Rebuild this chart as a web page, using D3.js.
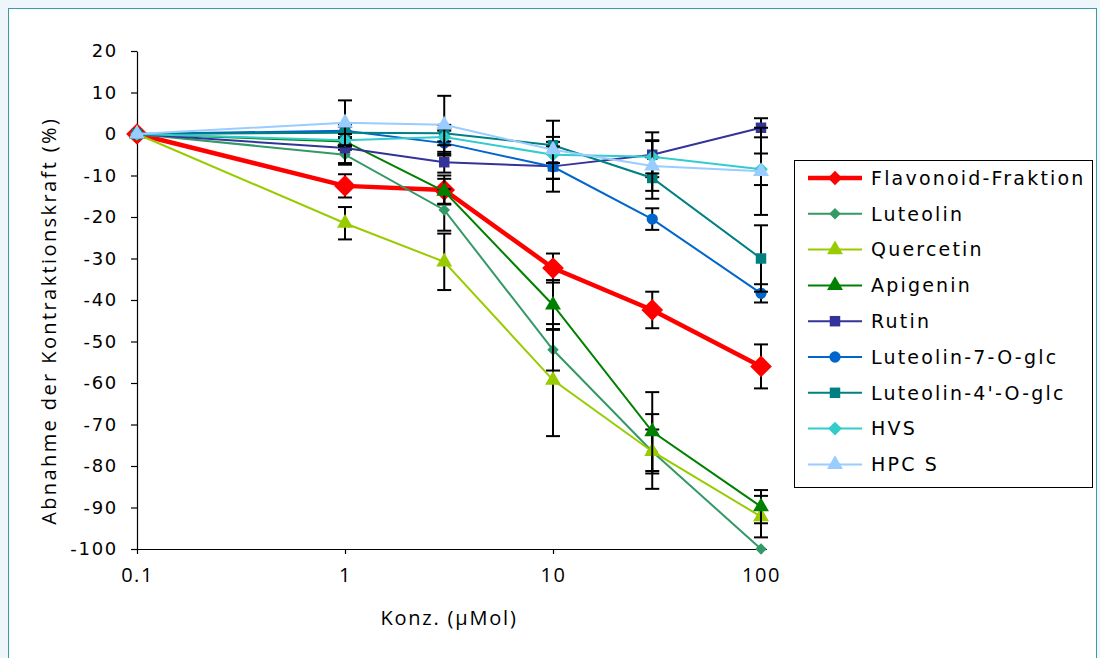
<!DOCTYPE html>
<html>
<head>
<meta charset="utf-8">
<script src="https://cdn.jsdelivr.net/npm/d3@7"></script>
<style>
	body { margin: 0; background: #eef6fc; }
	svg { display: block; }
</style>
</head>
<body>
<script>
const conc = [0.1, 1, 3, 10, 30, 100]
const names = ['Flavonoid-Fraktion', 'Luteolin', 'Quercetin', 'Apigenin', 'Rutin', 'Luteolin-7-O-glc', "Luteolin-4'-O-glc", 'HVS', 'HPC S']
const colors = ['#ff0000', '#339966', '#99cc00', '#008000', '#333399', '#0066cc', '#008080', '#33cccc', '#99ccff']
const symbols = ['diamond', 'diamond', 'triangle', 'triangle', 'square', 'circle', 'square', 'diamond', 'triangle']
const values = [
	[0, -12.5, -13.5, -32.3, -42.4, -56],
	[0, -5, -18.3, -52, -76.5, -100],
	[0, -21.5, -30.8, -59.3, -76.5, -92.2],
	[0, -1.8, -13.8, -41.2, -71.7, -89.8],
	[0, -3.4, -6.8, -7.8, -5, 1.5],
	[0, 0.8, -2.2, -7.9, -20.5, -38.4],
	[0, 0.3, 0.2, -2.7, -10.6, -30],
	[0, -1.5, -0.7, -5, -5.5, -8.5],
	[0, 2.7, 2.2, -3.8, -7.7, -9],
]
const errors = [
	[0, 2.8, 3.5, 3.5, 4.4, 5.3],
	[0, 2, 5, 5, 5.3, 0],
	[0, 3.9, 6.8, 13.5, 9, 5],
	[0, 2, 3, 6, 9.5, 4],
	[0, 4, 2.5, 3, 5.4, 2.3],
	[0, 1.5, 3, 6, 2.6, 2.2],
	[0, 1.5, 2, 2, 5, 8],
	[0, 1.5, 2, 2, 4, 3.8],
	[0, 5.4, 7, 7, 6, 10.5],
]
const yTicks = d3.range(-100, 21, 10)
const xTicks = [0.1, 1, 10, 100]

const width = 1100, height = 658
const svg = d3.select('body').append('svg').attr('width', width).attr('height', height)

svg.append('rect')
	.attr('x', 8.5).attr('y', 8.5)
	.attr('width', 1088).attr('height', 680)
	.attr('fill', '#ffffff').attr('stroke', '#3a9c9c').attr('stroke-width', 1)

const x = d3.scaleLog().domain([0.1, 100]).range([137, 761])
const y = d3.scaleLinear().domain([-100, 20]).range([549, 51])

const yAxis = svg.append('g')
	.attr('transform', `translate(${x(0.1)},0)`)
	.call(d3.axisLeft(y).tickValues(yTicks).tickFormat(d => String(d)).tickSize(6).tickPadding(13).tickSizeOuter(0))
yAxis.selectAll('text')
	.attr('font-family', 'DejaVu Sans').attr('font-size', 18).attr('letter-spacing', 1.7).attr('fill', '#000')
const xAxis = svg.append('g')
	.attr('transform', `translate(0,${y(-100)})`)
	.call(d3.axisBottom(x).tickValues(xTicks).tickFormat(d => String(d)).tickSize(5).tickPadding(14).tickSizeOuter(0))
xAxis.selectAll('text')
	.attr('font-family', 'Open Sans').attr('font-size', 20).attr('letter-spacing', 1.5).attr('fill', '#000')
svg.selectAll('.domain, .tick line').attr('stroke', '#000').attr('stroke-width', 1.2)
xAxis.select('.domain').attr('d', `M${x(0.1)},0.5H${x(100) + 6}`)

svg.append('text')
	.attr('x', x(Math.sqrt(0.1 * 100))).attr('y', 625)
	.attr('text-anchor', 'middle')
	.attr('font-family', 'Open Sans').attr('font-size', 20).attr('letter-spacing', 1.8)
	.text('Konz. (µMol)')
svg.append('text')
	.attr('transform', `translate(56,${y(-45)}) rotate(-90)`)
	.attr('text-anchor', 'middle')
	.attr('font-family', 'Open Sans').attr('font-size', 20).attr('letter-spacing', 2.4)
	.text('Abnahme der Kontraktionskraft (%)')

const symbolType = {
	diamond: d3.symbolDiamond2,
	triangle: d3.symbolTriangle,
	square: d3.symbolSquare,
	circle: d3.symbolCircle,
}
const symbolSize = (s, i) => {
	if (i === 0) return 300
	return { diamond: i === 1 ? 85 : 120, triangle: 110, square: 110, circle: 100 }[s]
}

const line = d3.line().x((_, j) => x(conc[j])).y(d => y(d))
values.forEach((series, i) => {
	const g = svg.append('g').classed('series', true)
	g.append('path')
		.attr('d', line(series))
		.attr('fill', 'none')
		.attr('stroke', colors[i])
		.attr('stroke-width', i === 0 ? 4.5 : 2)
	const bars = g.selectAll('g.err').data(series.map((v, j) => [conc[j], v, errors[i][j]]).filter(d => d[2] > 0))
		.join('g').classed('err', true)
	bars.append('line')
		.attr('x1', d => x(d[0])).attr('x2', d => x(d[0]))
		.attr('y1', d => y(d[1] + d[2])).attr('y2', d => y(d[1] - d[2]))
	bars.append('line')
		.attr('x1', d => x(d[0]) - 7).attr('x2', d => x(d[0]) + 7)
		.attr('y1', d => y(d[1] + d[2])).attr('y2', d => y(d[1] + d[2]))
	bars.append('line')
		.attr('x1', d => x(d[0]) - 7).attr('x2', d => x(d[0]) + 7)
		.attr('y1', d => y(d[1] - d[2])).attr('y2', d => y(d[1] - d[2]))
	bars.selectAll('line').attr('stroke', '#000').attr('stroke-width', 2)
	g.selectAll('path.mark').data(series).join('path').classed('mark', true)
		.attr('transform', (d, j) => `translate(${x(conc[j])},${y(d)})`)
		.attr('d', d3.symbol(symbolType[symbols[i]], symbolSize(symbols[i], i)))
		.attr('fill', colors[i])
})

// legend
const legend = svg.append('g').attr('transform', 'translate(794,160)')
legend.append('rect')
	.attr('x', 0.5).attr('y', 0.5)
	.attr('width', 298).attr('height', 327)
	.attr('fill', '#fff').attr('stroke', '#000').attr('stroke-width', 1)
const item = legend.selectAll('g.item').data(names).join('g').classed('item', true)
	.attr('transform', (_, i) => `translate(0,${18 + i * 35.8})`)
item.append('line')
	.attr('x1', 14).attr('x2', 68)
	.attr('stroke', (_, i) => colors[i])
	.attr('stroke-width', (_, i) => i === 0 ? 4.5 : 2)
item.append('path')
	.attr('transform', 'translate(41,0)')
	.attr('d', (_, i) => d3.symbol(symbolType[symbols[i]], i === 0 ? 130 : symbolSize(symbols[i], i))())
	.attr('fill', (_, i) => colors[i])
item.append('text')
	.attr('x', 77).attr('dy', '0.36em')
	.attr('font-family', 'DejaVu Sans').attr('font-size', 19).attr('letter-spacing', 2.2)
	.text(d => d)
</script>
</body>
</html>
